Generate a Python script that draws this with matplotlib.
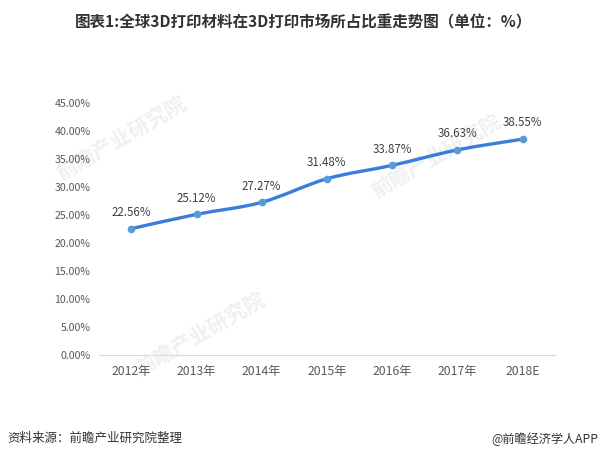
import matplotlib.pyplot as plt
import numpy as np
from matplotlib.path import Path
from matplotlib.patches import PathPatch
from matplotlib.ticker import PercentFormatter

plt.rcParams['font.family'] = ['Noto Sans CJK SC', 'DejaVu Sans']

years = ["2012年", "2013年", "2014年", "2015年", "2016年", "2017年", "2018E"]
share = [22.56, 25.12, 27.27, 31.48, 33.87, 36.63, 38.55]
yticks = [0, 5, 10, 15, 20, 25, 30, 35, 40, 45]

fig = plt.figure(figsize=(6.06, 4.58), dpi=100)
ax = fig.add_axes([0.163, 0.225, 0.753, 0.55])
ax.set_zorder(2)
ax.patch.set_alpha(0)

x = np.arange(len(years))
y = np.array(share)

# smooth line like Excel (bezier through the points)
verts = [(x[0], y[0])]
codes = [Path.MOVETO]
for i in range(len(x) - 1):
    p0 = np.array([x[max(i - 1, 0)], y[max(i - 1, 0)]])
    p1 = np.array([x[i], y[i]])
    p2 = np.array([x[i + 1], y[i + 1]])
    p3 = np.array([x[min(i + 2, len(x) - 1)], y[min(i + 2, len(x) - 1)]])
    c1 = p1 + (p2 - p0) / 6
    c2 = p2 - (p3 - p1) / 6
    verts += [tuple(c1), tuple(c2), tuple(p2)]
    codes += [Path.CURVE4] * 3
ax.add_patch(PathPatch(Path(verts, codes), fill=False, edgecolor="#3b7ddd",
                       lw=2.4, capstyle="round", zorder=2))
ax.plot(x, y, "o", color="#5b9bd5", markersize=4.5, zorder=3)

for xi, yi in zip(x, y):
    ax.annotate(f"{yi:.2f}%", (xi, yi), xytext=(0, 7), textcoords="offset points",
                ha="center", va="bottom", fontsize=8.3, color="#404040")

ax.set_xlim(-0.5, len(years) - 0.5)
ax.set_ylim(0, 45)
ax.set_yticks(yticks)
ax.yaxis.set_major_formatter(PercentFormatter(decimals=2))
ax.set_xticks(x)
ax.set_xticklabels(years)
ax.tick_params(axis="y", length=0, labelsize=7.6, labelcolor="#595959", pad=6)
ax.tick_params(axis="x", length=0, labelsize=8.8, labelcolor="#595959", pad=7)
for s in ["top", "right", "left"]:
    ax.spines[s].set_visible(False)
ax.spines["bottom"].set_color("#d9d9d9")

# faint watermarks, behind the chart
for wx, wy in [(0.2, 0.7), (0.33, 0.27), (0.72, 0.66)]:
    fig.text(wx, wy, "前瞻产业研究院", fontsize=15, fontweight="bold", color="#eef0f4",
             rotation=30, ha="center", va="center", zorder=0)

fig.text(0.5, 0.952, "图表1:全球3D打印材料在3D打印市场所占比重走势图（单位：%）",
         ha="center", va="center", fontsize=11.2, fontweight="bold", color="#333333")
fig.text(0.012, 0.042, "资料来源：前瞻产业研究院整理", ha="left", va="center",
         fontsize=9, style="italic", color="#333333")
fig.text(0.988, 0.042, "@前瞻经济学人APP", ha="right", va="center",
         fontsize=8.7, color="#333333")

fig.savefig("out.png", dpi=100)
